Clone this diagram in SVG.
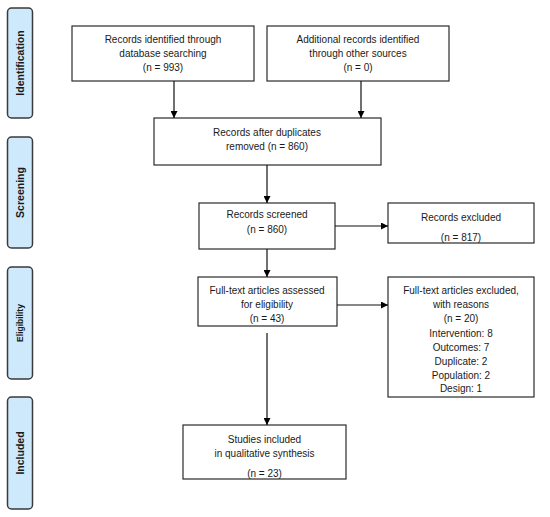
<svg xmlns="http://www.w3.org/2000/svg" width="550" height="517" viewBox="0 0 550 517">
<defs>
<marker id="ah" viewBox="0 0 10 10" refX="10" refY="5" markerWidth="7" markerHeight="7" markerUnits="userSpaceOnUse" orient="auto">
<path d="M0,0 L10,5 L0,10 z" fill="#000"/>
</marker>
<style>
.box{fill:#fff;stroke:#2b2b2b;stroke-width:1.2}
.phase{fill:#cde9fb;stroke:#3a3a3a;stroke-width:1.5}
.t{font-family:"Liberation Sans",Arial,sans-serif;font-size:10px;fill:#1a1a1a;text-anchor:middle}
.p{font-family:"Liberation Sans",Arial,sans-serif;font-size:10.5px;font-weight:bold;fill:#1a1a1a;text-anchor:middle}
.c{stroke:#111;stroke-width:1.2;fill:none;marker-end:url(#ah)}
</style>
</defs>
<rect width="550" height="517" fill="#fff"/>
<g id="phase-identification">
<rect class="phase" x="7.5" y="8" width="25" height="110" rx="4"/>
<text class="p" transform="translate(24,63) rotate(-90)">Identification</text>
</g>
<g id="phase-screening">
<rect class="phase" x="7.5" y="137" width="25" height="111" rx="4"/>
<text class="p" transform="translate(24,192.5) rotate(-90)">Screening</text>
</g>
<g id="phase-eligibility">
<rect class="phase" x="7.5" y="267" width="25" height="112" rx="4"/>
<text class="p" style="font-size:8.5px" transform="translate(23,323) rotate(-90)">Eligibility</text>
</g>
<g id="phase-included">
<rect class="phase" x="7.5" y="397" width="25" height="112" rx="4"/>
<text class="p" transform="translate(24,453) rotate(-90)">Included</text>
</g>
<g id="box-db">
<rect class="box" x="72" y="26" width="182" height="55"/>
<text class="t" x="163" y="43">Records identified through</text>
<text class="t" x="163" y="57">database searching</text>
<text class="t" x="163" y="71">(n = 993)</text>
</g>
<g id="box-other">
<rect class="box" x="267" y="26" width="182" height="55"/>
<text class="t" x="358" y="43">Additional records identified</text>
<text class="t" x="358" y="57">through other sources</text>
<text class="t" x="358" y="71">(n = 0)</text>
</g>
<g id="box-dedup">
<rect class="box" x="154" y="118" width="227" height="47"/>
<text class="t" x="267" y="136">Records after duplicates</text>
<text class="t" x="267" y="150">removed (n = 860)</text>
</g>
<g id="box-screened">
<rect class="box" x="199" y="203" width="136" height="46"/>
<text class="t" x="267" y="218">Records screened</text>
<text class="t" x="267" y="233">(n = 860)</text>
</g>
<g id="box-excluded">
<rect class="box" x="388" y="203" width="146" height="40"/>
<text class="t" x="461" y="221">Records excluded</text>
<text class="t" x="461" y="241">(n = 817)</text>
</g>
<g id="box-fulltext">
<rect class="box" x="198" y="277" width="139" height="49"/>
<text class="t" x="267" y="294">Full-text articles assessed</text>
<text class="t" x="267" y="308">for eligibility</text>
<text class="t" x="267" y="322">(n = 43)</text>
</g>
<g id="box-ft-excluded">
<rect class="box" x="388" y="277" width="146" height="120"/>
<text class="t" x="461" y="294">Full-text articles excluded,</text>
<text class="t" x="461" y="308">with reasons</text>
<text class="t" x="461" y="322">(n = 20)</text>
<text class="t" x="461" y="337">Intervention: 8</text>
<text class="t" x="461" y="351">Outcomes: 7</text>
<text class="t" x="461" y="365">Duplicate: 2</text>
<text class="t" x="461" y="379">Population: 2</text>
<text class="t" x="461" y="392">Design: 1</text>
</g>
<g id="box-included">
<rect class="box" x="183" y="425" width="163" height="54"/>
<text class="t" x="264.5" y="443">Studies included</text>
<text class="t" x="264.5" y="457">in qualitative synthesis</text>
<text class="t" x="264.5" y="477">(n = 23)</text>
</g>
<g id="connectors">
<line class="c" x1="174" y1="81" x2="174" y2="118"/>
<line class="c" x1="361" y1="81" x2="361" y2="118"/>
<line class="c" x1="267" y1="165" x2="267" y2="203"/>
<line class="c" x1="267" y1="249" x2="267" y2="277"/>
<line class="c" x1="267" y1="333" x2="267" y2="425"/>
<line class="c" x1="335" y1="226" x2="388" y2="226"/>
<line class="c" x1="337" y1="305" x2="388" y2="305"/>
</g>
</svg>
